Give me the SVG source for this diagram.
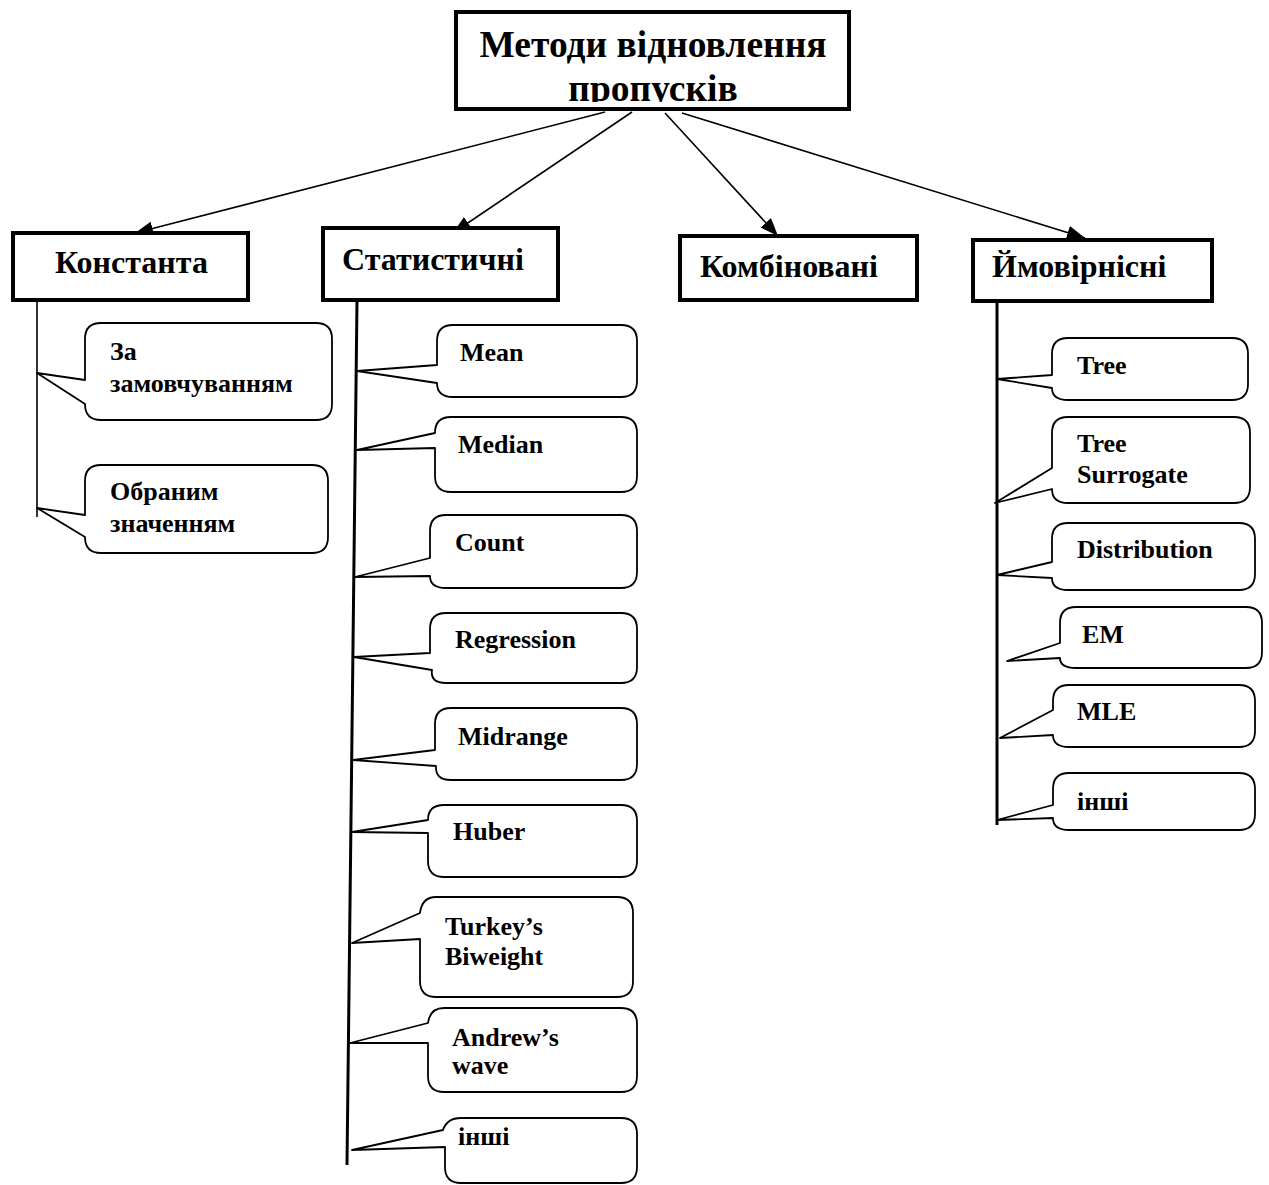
<svg xmlns="http://www.w3.org/2000/svg" width="1269" height="1185" viewBox="0 0 1269 1185">
  <style>
    .box { fill: #fff; stroke: #000; stroke-width: 4; }
    .call { fill: #fff; stroke: #000; stroke-width: 1.8; stroke-linejoin: round; }
    .stem { stroke: #000; fill: none; }
    .arrow { stroke: #000; stroke-width: 1.6; fill: none; marker-end: url(#head); }
    text { font-family: "Liberation Serif", "Times New Roman", serif; font-weight: bold; fill: #000; }
    .title { font-size: 37.5px; text-anchor: middle; }
    .lbl { font-size: 32px; }
    .item { font-size: 26px; }
  </style>
  <defs>
    <marker id="head" markerUnits="userSpaceOnUse" markerWidth="20" markerHeight="16" refX="18" refY="7" orient="auto">
      <path d="M0,0 L18,7 L0,14 Z" fill="#000"/>
    </marker>
    <clipPath id="titleClip">
      <rect x="458" y="14" width="389" height="88"/>
    </clipPath>
  </defs>

  <rect width="1269" height="1185" fill="#fff"/>

  <!-- root -->
  <g id="root">
    <rect class="box" x="456" y="12" width="393" height="97"/>
    <g clip-path="url(#titleClip)">
      <text class="title" x="653" y="57">Методи відновлення</text>
      <text class="title" x="653" y="101">пропусків</text>
    </g>
  </g>

  <!-- arrows from the root to the four categories -->
  <g id="connectors">
    <line class="arrow" x1="605" y1="112" x2="135" y2="233"/>
    <line class="arrow" x1="632" y1="112" x2="453" y2="233"/>
    <line class="arrow" x1="665" y1="113" x2="778" y2="236"/>
    <line class="arrow" x1="682" y1="113" x2="1085" y2="238"/>
    <!-- stems carrying the callouts -->
    <line class="stem" x1="37" y1="300" x2="37" y2="517" stroke-width="1.6"/>
    <line class="stem" x1="357" y1="300" x2="347" y2="1165" stroke-width="3"/>
    <line class="stem" x1="997" y1="302" x2="997" y2="825" stroke-width="3"/>
  </g>

  <!-- category boxes -->
  <g id="const">
    <rect class="box" x="13" y="233" width="235" height="67"/>
    <text class="lbl" x="55" y="273">Константа</text>
  </g>
  <g id="stat">
    <rect class="box" x="323" y="228" width="235" height="72"/>
    <text class="lbl" x="342" y="270">Статистичні</text>
  </g>
  <g id="comb">
    <rect class="box" x="680" y="236" width="237" height="64"/>
    <text class="lbl" x="700" y="277">Комбіновані</text>
  </g>
  <g id="prob">
    <rect class="box" x="973" y="240" width="239" height="61"/>
    <text class="lbl" x="992" y="277">Ймовірнісні</text>
  </g>

  <!-- callouts: rounded body with a wedge pointing to the stem -->
  <g id="c-default">
    <path class="call" d="M101,323 H316 Q332,323 332,339 V404 Q332,420 316,420 H101 Q85,420 85,404 L37,373 L85,380 V339 Q85,323 101,323 Z"/>
    <text class="item" x="110" y="360">За</text>
    <text class="item" x="110" y="392">замовчуванням</text>
  </g>
  <g id="c-chosen">
    <path class="call" d="M101,465 H312 Q328,465 328,481 V537 Q328,553 312,553 H101 Q85,553 85,537 L37,508 L85,515 V481 Q85,465 101,465 Z"/>
    <text class="item" x="110" y="500">Обраним</text>
    <text class="item" x="110" y="532">значенням</text>
  </g>

  <g id="c-mean">
    <path class="call" d="M453,325 H621 Q637,325 637,341 V381 Q637,397 621,397 H453 Q437,397 437,383 L357,371 L437,365 V341 Q437,325 453,325 Z"/>
    <text class="item" x="460" y="361">Mean</text>
  </g>
  <g id="c-median">
    <path class="call" d="M451,417 H621 Q637,417 637,433 V476 Q637,492 621,492 H451 Q435,492 435,476 V448 L357,450 L435,433 Q435,417 451,417 Z"/>
    <text class="item" x="458" y="453">Median</text>
  </g>
  <g id="c-count">
    <path class="call" d="M446,515 H621 Q637,515 637,531 V572 Q637,588 621,588 H446 Q430,588 430,576 L355,577 L430,558 V531 Q430,515 446,515 Z"/>
    <text class="item" x="455" y="551">Count</text>
  </g>
  <g id="c-regression">
    <path class="call" d="M446,613 H621 Q637,613 637,629 V667 Q637,683 621,683 H446 Q430,683 432,670 L354,657 L430,653 V629 Q430,613 446,613 Z"/>
    <text class="item" x="455" y="648">Regression</text>
  </g>
  <g id="c-midrange">
    <path class="call" d="M451,708 H621 Q637,708 637,724 V764 Q637,780 621,780 H451 Q435,780 436,766 L353,760 L435,750 V724 Q435,708 451,708 Z"/>
    <text class="item" x="458" y="745">Midrange</text>
  </g>
  <g id="c-huber">
    <path class="call" d="M444,805 H621 Q637,805 637,821 V861 Q637,877 621,877 H444 Q428,877 428,861 V833 L352,832 L428,820 Q428,805 444,805 Z"/>
    <text class="item" x="453" y="840">Huber</text>
  </g>
  <g id="c-tukey">
    <path class="call" d="M436,897 H617 Q633,897 633,913 V981 Q633,997 617,997 H436 Q420,997 420,981 V939 L352,943 L420,913 Q422,897 436,897 Z"/>
    <text class="item" x="445" y="935">Turkey’s</text>
    <text class="item" x="445" y="965">Biweight</text>
  </g>
  <g id="c-andrew">
    <path class="call" d="M444,1008 H621 Q637,1008 637,1024 V1076 Q637,1092 621,1092 H444 Q428,1092 428,1076 V1043 L350,1043 L428,1023 Q430,1008 444,1008 Z"/>
    <text class="item" x="452" y="1046">Andrew’s</text>
    <text class="item" x="452" y="1074">wave</text>
  </g>
  <g id="c-other1">
    <path class="call" d="M461,1118 H621 Q637,1118 637,1134 V1167 Q637,1183 621,1183 H461 Q445,1183 445,1167 V1147 L352,1150 L443,1130 Q447,1118 461,1118 Z"/>
    <text class="item" x="458" y="1145">інші</text>
  </g>

  <g id="c-tree">
    <path class="call" d="M1068,338 H1232 Q1248,338 1248,354 V384 Q1248,400 1232,400 H1068 Q1052,400 1052,388 L997,379 L1052,375 V354 Q1052,338 1068,338 Z"/>
    <text class="item" x="1077" y="374">Tree</text>
  </g>
  <g id="c-surrogate">
    <path class="call" d="M1068,417 H1234 Q1250,417 1250,433 V487 Q1250,503 1234,503 H1068 Q1052,503 1052,489 L995,503 L1052,468 V433 Q1052,417 1068,417 Z"/>
    <text class="item" x="1077" y="452">Tree</text>
    <text class="item" x="1077" y="483">Surrogate</text>
  </g>
  <g id="c-distribution">
    <path class="call" d="M1068,523 H1239 Q1255,523 1255,539 V574 Q1255,590 1239,590 H1068 Q1052,590 1052,578 L997,575 L1052,562 V539 Q1052,523 1068,523 Z"/>
    <text class="item" x="1077" y="558">Distribution</text>
  </g>
  <g id="c-em">
    <path class="call" d="M1076,607 H1246 Q1262,607 1262,623 V652 Q1262,668 1246,668 H1076 Q1060,668 1060,658 L1007,661 L1060,643 V623 Q1060,607 1076,607 Z"/>
    <text class="item" x="1082" y="643">EM</text>
  </g>
  <g id="c-mle">
    <path class="call" d="M1069,685 H1239 Q1255,685 1255,701 V731 Q1255,747 1239,747 H1069 Q1053,747 1053,735 L1000,738 L1053,710 V701 Q1053,685 1069,685 Z"/>
    <text class="item" x="1077" y="720">MLE</text>
  </g>
  <g id="c-other2">
    <path class="call" d="M1069,773 H1239 Q1255,773 1255,789 V814 Q1255,830 1239,830 H1069 Q1053,830 1053,818 L997,820 L1053,805 V789 Q1053,773 1069,773 Z"/>
    <text class="item" x="1077" y="810">інші</text>
  </g>
</svg>
